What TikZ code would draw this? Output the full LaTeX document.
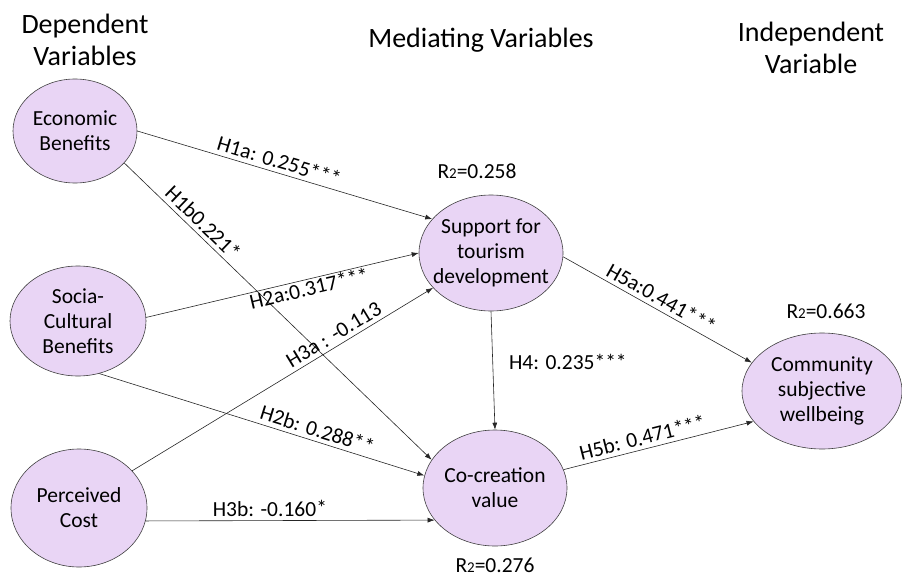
\documentclass[tikz,border=0pt]{standalone}
\usepackage{fontspec}
\setmainfont{Carlito}
\usetikzlibrary{shapes.geometric,arrows.meta}
\definecolor{lilac}{RGB}{233,213,245}
\newcommand{\Rtwo}[1]{R{\fontsize{15}{15}\selectfont 2}=#1}
\tikzset{
   centered/.style = { align=center, anchor=center },
      title/.style = { font=\fontsize{28}{32}\selectfont, centered },
  construct/.style = { ellipse, draw=black!75, fill=lilac, line width=0.6pt,
                       inner xsep=-12pt, inner ysep=0pt,
                       font=\fontsize{21.5}{25}\selectfont, centered },
      arrow/.style = { line width=0.6pt, color=black!85, -{Latex[length=7pt,width=5pt]} },
      coeff/.style = { font=\fontsize{21.5}{22}\selectfont, inner sep=4pt, text=black },
        rsq/.style = { font=\fontsize{21.5}{22}\selectfont, centered }
}

\begin{document}
\begin{tikzpicture}[x=1pt, y=-1pt]
  \useasboundingbox (0,0) rectangle (902,578);

  % column headings
  \node[title] (dep) at (85,40)  {Dependent\\Variables};
  \node[title] (med) at (481,40) {Mediating Variables};
  \node[title] (ind) at (811,48) {Independent\\Variable};

  % constructs
  \node[construct, minimum width=124pt, minimum height=104pt] (econ)    at (75,131)  {Economic\\Benefits};
  \node[construct, minimum width=136pt, minimum height=110pt] (socio)   at (78,321)  {Socia-\\Cultural\\Benefits};
  \node[construct, minimum width=136pt, minimum height=118pt] (cost)    at (79,508)  {Perceived\\Cost};
  \node[construct, minimum width=144pt, minimum height=116pt] (support) at (491,253) {Support for\\tourism\\development};
  \node[construct, minimum width=144pt, minimum height=116pt] (cocreat) at (495,488) {Co-creation\\value};
  \node[construct, minimum width=160pt, minimum height=116pt] (wellb)   at (822,391) {Community\\subjective\\wellbeing};

  % explained variance
  \node[rsq] (r2support) at (477,171) {\Rtwo{0.258}};
  \node[rsq] (r2wellb)   at (826,311) {\Rtwo{0.663}};
  \node[rsq] (r2cocreat) at (495,565) {\Rtwo{0.276}};

  % paths
  \draw [arrow] (econ.east) -- node[coeff, sloped, above, pos=.47] {H1a: 0.255***} (support.150);
  \draw [arrow] (econ.-33)  -- node[coeff, sloped, above, pos=.23] {H1b0.221*} (cocreat.156);
  \draw [arrow] (socio.3)   -- node[coeff, sloped, below, pos=.59, inner sep=1pt] {H2a:0.317***} (support.west);
  \draw [arrow] (socio.-68) -- node[coeff, sloped, above, pos=.66] {H2b: 0.288**} (cocreat.170);
  \draw [arrow] (cost.35)   -- node[coeff, sloped, above, pos=.69] {H3a : -0.113} (support.211);
  \draw [arrow] (cost.-11)  -- node[coeff, sloped, above, pos=.43] {H3b: -0.160*} (cocreat.208);
  \draw [arrow] (support.south) -- node[coeff, right=12pt, pos=.43] {H4: 0.235***} (cocreat.north);
  \draw [arrow] (support.-3) -- node[coeff, sloped, above, pos=.49] {H5a:0.441***} (wellb.158);
  \draw [arrow] (cocreat.15) -- node[coeff, sloped, above, pos=.43] {H5b: 0.471***} (wellb.204);
\end{tikzpicture}
\end{document}
